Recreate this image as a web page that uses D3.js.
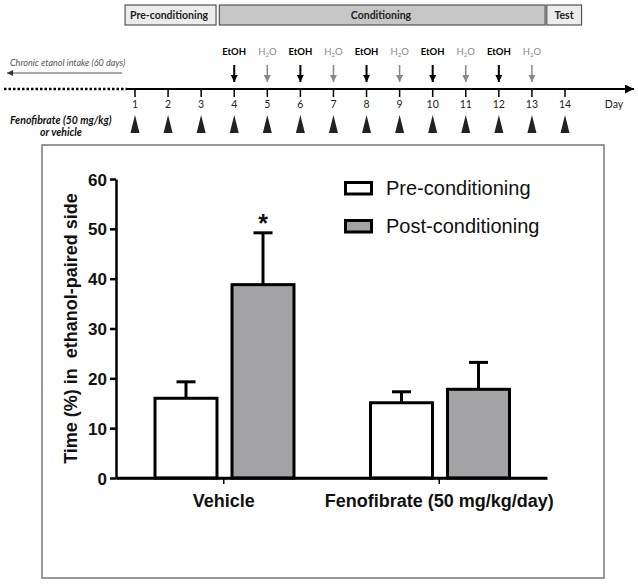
<!DOCTYPE html>
<html><head><meta charset="utf-8">
<script src="https://cdn.jsdelivr.net/npm/d3@7"></script>
<style>body{margin:0;background:#fff}svg{display:block}</style>
</head><body>
<svg id="c" width="638" height="586"></svg>
<script>
// ---- data ----
const phases = ["Pre-conditioning", "Conditioning", "Test"];
const phaseStart = [0.7, 3.55, 13.45];
const phaseEnd = [3.45, 13.4, 14.5];
const days = [1,2,3,4,5,6,7,8,9,10,11,12,13,14];
const dayEvents = ["","","","EtOH","H2O","EtOH","H2O","EtOH","H2O","EtOH","H2O","EtOH","H2O",""];
const groups = ["Vehicle", "Fenofibrate (50 mg/kg/day)"];
const series = ["Pre-conditioning", "Post-conditioning"];
const meanPre = [16, 15.1];
const meanPost = [38.8, 17.8];
const semPre = [3.3, 2.2];
const semPost = [10.4, 5.4];
const yTicks = [0,10,20,30,40,50,60];
const sigMarks = ["", "*"]; // per series for Vehicle group
const seriesFill = ["#ffffff", "#a3a3a6"];

const svg = d3.select("#c");
const F = "Liberation Sans, Arial, sans-serif";
const FC = "Lato, 'Open Sans', sans-serif";

// ---- timeline ----
const xd = d3.scaleLinear().domain([1,14]).range([135,565]);
const tl = svg.append("g");
const defs = svg.append("defs");
function marker(id, color, w, h){
  defs.append("marker").attr("id",id).attr("viewBox","0 0 10 10").attr("refX",10).attr("refY",5)
    .attr("markerWidth",w).attr("markerHeight",h).attr("markerUnits","userSpaceOnUse").attr("orient","auto")
    .append("path").attr("d","M0,0L10,5L0,10Z").attr("fill",color);
}
marker("ahK","#000",7,7); marker("ahG","#888",7,7); marker("ahEnd","#000",12,9); marker("ahL","#333",7,6);

// phase boxes
const boxFill = ["#ececec","#c6c6c6","#ececec"];
phases.forEach((p,i)=>{
  const x0 = xd(phaseStart[i]) , x1 = xd(phaseEnd[i]);
  tl.append("rect").attr("x",x0).attr("y",5).attr("width",x1-x0).attr("height",20)
    .attr("fill",boxFill[i]).attr("stroke","#555").attr("stroke-width",1.2);
});
tl.append("text").attr("x",130).attr("y",19).attr("font-family",FC).attr("font-weight","bold").attr("font-size",10.5).attr("fill","#222").text(phases[0]);
tl.append("text").attr("x",381).attr("y",19).attr("text-anchor","middle").attr("font-family",FC).attr("font-weight","bold").attr("font-size",10.5).attr("fill","#222").text(phases[1]);
tl.append("text").attr("x",564).attr("y",19).attr("text-anchor","middle").attr("font-family",FC).attr("font-weight","bold").attr("font-size",10.5).attr("fill","#222").text(phases[2]);

// main line
tl.append("line").attr("x1",4).attr("x2",127).attr("y1",89).attr("y2",89).attr("stroke","#000").attr("stroke-width",2.5).attr("stroke-dasharray","2.5,2");
tl.append("line").attr("x1",127).attr("x2",634).attr("y1",89).attr("y2",89).attr("stroke","#000").attr("stroke-width",2).attr("marker-end","url(#ahEnd)");

// chronic intake
tl.append("text").attr("x",10).attr("y",66).attr("font-family",FC).attr("font-style","italic").attr("font-size",9).attr("fill","#555").text("Chronic etanol intake (60 days)");
tl.append("line").attr("x1",122).attr("x2",7).attr("y1",73).attr("y2",73).attr("stroke","#555").attr("stroke-width",1.2).attr("marker-end","url(#ahL)");

// days
days.forEach((d,i)=>{
  const x = xd(d);
  tl.append("line").attr("x1",x).attr("x2",x).attr("y1",89).attr("y2",97).attr("stroke","#000").attr("stroke-width",1.5);
  tl.append("text").attr("x",x).attr("y",108).attr("text-anchor","middle").attr("font-family",FC).attr("font-size",10.5).attr("fill","#222").text(d);
  tl.append("path").attr("d",`M${x-4.5},133L${x},115L${x+4.5},133Z`).attr("fill","#222");
  const ev = dayEvents[i];
  if(ev){
    const col = ev==="EtOH" ? "#000" : "#888";
    const t = tl.append("text").attr("x",x).attr("y",55).attr("text-anchor","middle").attr("font-family",FC).attr("font-size",9.5)
      .attr("font-weight", ev==="EtOH"?"bold":"normal").attr("fill",col);
    if(ev==="EtOH") t.text("EtOH");
    else { t.append("tspan").text("H"); t.append("tspan").attr("font-size",6).attr("dy",2).text("2"); t.append("tspan").attr("dy",-2).text("O"); }
    tl.append("line").attr("x1",x).attr("x2",x).attr("y1",65).attr("y2",82).attr("stroke",col).attr("stroke-width",ev==="EtOH"?2:1.5)
      .attr("marker-end", ev==="EtOH"?"url(#ahK)":"url(#ahG)");
  }
});
tl.append("text").attr("x",614).attr("y",108).attr("text-anchor","middle").attr("font-family",FC).attr("font-size",10.5).attr("fill","#222").text("Day");
tl.append("text").attr("x",10).attr("y",124).attr("font-family",FC).attr("font-style","italic").attr("font-weight","bold").attr("font-size",10.5).attr("fill","#111").text("Fenofibrate (50 mg/kg)");
tl.append("text").attr("x",61).attr("y",136).attr("text-anchor","middle").attr("font-family",FC).attr("font-style","italic").attr("font-weight","bold").attr("font-size",10.5).attr("fill","#111").text("or vehicle");

// ---- panel ----
svg.append("rect").attr("x",42).attr("y",145).attr("width",562).attr("height",433).attr("fill","none").attr("stroke","#777").attr("stroke-width",1.5);

const y = d3.scaleLinear().domain([0,60]).range([478,179]);
const x0 = d3.scaleBand().domain(groups).range([116,547]).padding(0);
const x1 = d3.scaleBand().domain(series).range([31.5,185.5]).paddingInner(0.195).paddingOuter(0.0975);

const g = svg.append("g");
// axes
const yAxis = g.append("g").attr("transform","translate(116,0)").call(d3.axisLeft(y).tickValues(yTicks).tickSize(6).tickSizeOuter(0));
yAxis.select(".domain").attr("stroke","#000").attr("stroke-width",2.5);
yAxis.selectAll(".tick line").attr("stroke","#000").attr("stroke-width",2.5);
yAxis.selectAll(".tick text").attr("font-family",F).attr("font-weight","bold").attr("font-size",17).attr("fill","#111").attr("x",-9).attr("dy","0.36em");

const xAxis = g.append("g").attr("transform","translate(0,478)").call(d3.axisBottom(x0).tickSize(6).tickSizeOuter(0));
xAxis.select(".domain").attr("stroke","#000").attr("stroke-width",2.5);
xAxis.selectAll(".tick line").attr("stroke","#000").attr("stroke-width",1.5);
xAxis.selectAll(".tick text").attr("font-family",F).attr("font-weight","bold").attr("font-size",18).attr("fill","#111").attr("y",29).attr("dy",0);

// bars
const rows = [];
groups.forEach((gr,i)=>{
  rows.push({g:gr, s:series[0], v:meanPre[i], e:semPre[i], fill:seriesFill[0], star: i===0?sigMarks[0]:""});
  rows.push({g:gr, s:series[1], v:meanPost[i], e:semPost[i], fill:seriesFill[1], star: i===0?sigMarks[1]:""});
});
const bg = g.selectAll(".bar").data(rows).enter().append("g");
bg.append("line")
  .attr("x1",d=>x0(d.g)+x1(d.s)+x1.bandwidth()/2).attr("x2",d=>x0(d.g)+x1(d.s)+x1.bandwidth()/2)
  .attr("y1",d=>y(d.v)).attr("y2",d=>y(d.v+d.e)).attr("stroke","#000").attr("stroke-width",3);
bg.append("line")
  .attr("x1",d=>x0(d.g)+x1(d.s)+x1.bandwidth()/2-9.5).attr("x2",d=>x0(d.g)+x1(d.s)+x1.bandwidth()/2+9.5)
  .attr("y1",d=>y(d.v+d.e)).attr("y2",d=>y(d.v+d.e)).attr("stroke","#000").attr("stroke-width",3);
bg.append("rect")
  .attr("x",d=>x0(d.g)+x1(d.s)).attr("width",x1.bandwidth())
  .attr("y",d=>y(d.v)).attr("height",d=>y(0)-y(d.v))
  .attr("fill",d=>d.fill).attr("stroke","#000").attr("stroke-width",3);
bg.filter(d=>d.star).append("text")
  .attr("x",d=>x0(d.g)+x1(d.s)+x1.bandwidth()/2).attr("y",d=>y(d.v+d.e)-1)
  .attr("text-anchor","middle").attr("font-family",F).attr("font-weight","bold").attr("font-size",25).attr("fill","#111").text(d=>d.star);
// redraw x-axis line on top
g.append("line").attr("x1",116).attr("x2",547).attr("y1",478).attr("y2",478).attr("stroke","#000").attr("stroke-width",2.5);

// y title
g.append("text").attr("transform","translate(77,328.5) rotate(-90)").attr("text-anchor","middle")
  .attr("font-family",F).attr("font-weight","bold").attr("font-size",18).attr("fill","#111")
  .style("white-space","pre").text("Time (%) in  ethanol-paired side");

// legend
const lg = g.append("g");
series.forEach((s,i)=>{
  const yy = 181 + i*38;
  lg.append("rect").attr("x",345.5).attr("y",yy+1.5).attr("width",26).attr("height",11.5).attr("fill",seriesFill[i]).attr("stroke","#000").attr("stroke-width",3);
  lg.append("text").attr("x",386).attr("y",yy+13.5).attr("font-family",F).attr("font-size",20).attr("fill","#111").text(s);
});
</script>
</body></html>
